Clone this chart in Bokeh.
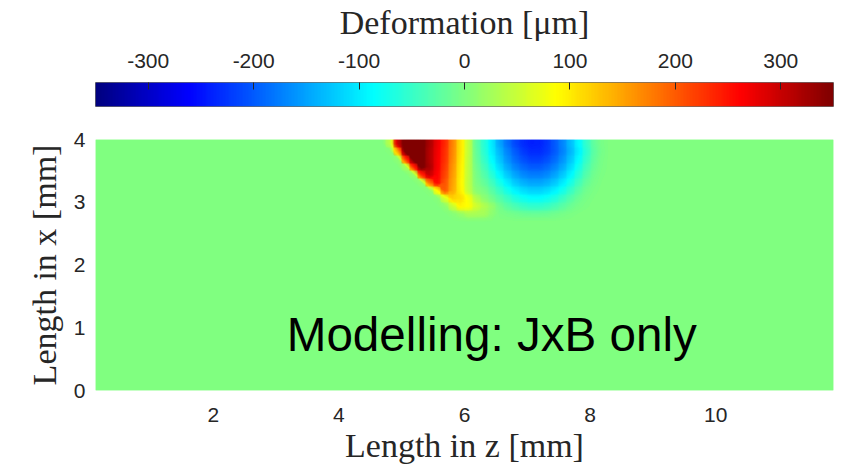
import numpy as np
from bokeh.plotting import figure
from bokeh.models import LinearColorMapper, FixedTicker, Range1d, CustomJSTickFormatter
from bokeh.layouts import column
from bokeh.embed import file_html
from bokeh.resources import INLINE
from bokeh.core.properties import value

# ---------------- data ----------------
z_limits = (0.125, 11.875)      # length in z [mm] (image extent)
x_limits = (0.0, 4.0)           # length in x [mm]
cell_size = 0.125               # grid step [mm]
patch_z_left = 4.75             # left edge of the non-zero patch [mm]
clim = (-350, 350)              # colour limits [um]

# deformation [um] in the non-zero patch, rows from x = 4.0 downwards,
# columns from z = 4.75 to the right, 0.125 mm cells
row_x3_94 = [40, 300, 370, 370, 365, 320, 275, 235, 170, 105, 45, -22, -61, -103, -150, -186, -214, -233, -242, -240, -226, -201, -170, -132, -92, -52, -20, -5]
row_x3_81 = [3, 150, 365, 370, 365, 315, 272, 230, 168, 105, 45, -19, -58, -99, -138, -173, -201, -223, -234, -234, -223, -201, -173, -138, -99, -58, -24, -7]
row_x3_69 = [0, 10, 220, 365, 365, 315, 270, 228, 165, 103, 43, -15, -51, -90, -128, -162, -189, -209, -220, -220, -209, -189, -162, -128, -90, -51, -20, -5]
row_x3_56 = [0, 0, 25, 230, 360, 320, 268, 222, 160, 100, 42, -10, -41, -76, -113, -146, -172, -190, -200, -200, -190, -172, -146, -113, -76, -41, -15, -4]
row_x3_44 = [0, 0, 0, 15, 230, 300, 262, 215, 155, 98, 43, -5, -30, -60, -94, -125, -150, -168, -177, -177, -168, -150, -125, -94, -60, -30, -10, -2]
row_x3_31 = [0, 0, 0, 0, 10, 180, 255, 205, 150, 95, 42, -1, -19, -43, -72, -101, -125, -141, -150, -150, -141, -125, -101, -72, -43, -19, -6, -1]
row_x3_19 = [0, 0, 0, 0, 0, 5, 90, 200, 145, 98, 45, 7, -5, -27, -50, -75, -96, -111, -119, -119, -111, -96, -75, -50, -27, -10, -3, 0]
row_x3_06 = [0, 0, 0, 0, 0, 0, 5, 60, 120, 110, 80, 35, 10, -9, -30, -48, -66, -79, -86, -86, -79, -66, -48, -30, -14, -5, -1, 0]
row_x2_94 = [0, 0, 0, 0, 0, 0, 0, 10, 50, 95, 85, 55, 33, 14, -10, -26, -38, -49, -54, -54, -49, -38, -26, -14, -6, -2, 0, 0]
row_x2_81 = [0, 0, 0, 0, 0, 0, 0, 0, 5, 15, 30, 28, 25, 10, -3, -6, -10, -14, -16, -16, -14, -10, -6, -3, -1, 0, 0, 0]
patch_rows = [row_x3_94, row_x3_81, row_x3_69, row_x3_56, row_x3_44,
              row_x3_31, row_x3_19, row_x3_06, row_x2_94, row_x2_81]

cbar_ticks = [-300, -200, -100, 0, 100, 200, 300]
x_ticks = [2, 4, 6, 8, 10]
y_ticks = [0, 1, 2, 3, 4]
annotation = "Modelling: JxB only"

# ---------------- field assembly ----------------
nz = int(round((z_limits[1] - z_limits[0]) / cell_size))
nx = int(round((x_limits[1] - x_limits[0]) / cell_size))
field = np.zeros((nx, nz))
c0 = int(round((patch_z_left - z_limits[0]) / cell_size))
for j, row in enumerate(patch_rows):
    field[nx - 1 - j, c0:c0 + len(row)] = row

# node grid for smooth (interpolated-shading-like) rendering:
# cell centres plus the domain edges (edge nodes repeat the neighbouring cell)
z_nodes = np.concatenate([[z_limits[0]], z_limits[0] + cell_size * (np.arange(nz) + 0.5), [z_limits[1]]])
x_nodes = np.concatenate([[x_limits[0]], x_limits[0] + cell_size * (np.arange(nx) + 0.5), [x_limits[1]]])
Z = np.pad(field, 1, mode="edge")

# jet colormap
def jet_rgb(t):
    t = np.clip(np.asarray(t, dtype=float), 0, 1)
    ch = lambda c: np.clip(1.5 - np.abs(4 * t - c), 0, 1)
    return ch(3), ch(2), ch(1)

def to_hex(r, g, b):
    return ["#%02x%02x%02x" % (int(round(a * 255)), int(round(bb * 255)), int(round(c * 255)))
            for a, bb, c in zip(r, g, b)]

jet = to_hex(*jet_rgb(np.linspace(0, 1, 256)))
mapper = LinearColorMapper(palette=jet, low=clim[0], high=clim[1])

step = 2.5
levels = np.arange(clim[0] - step / 2, 400 + step, step)
mids = 0.5 * (levels[:-1] + levels[1:])
band_colors = to_hex(*jet_rgb((mids - clim[0]) / (clim[1] - clim[0])))

TICK_FONT = "Liberation Sans"
LABEL_FONT = "Liberation Serif"
TXT = "#262626"

# ---------------- colour bar ----------------
cb = figure(width=846, height=115, x_range=Range1d(*clim), y_range=Range1d(0, 1),
            x_axis_location="above", y_axis_location=None,
            output_backend="svg", toolbar_location=None,
            min_border_left=94, min_border_right=13, min_border_top=81, min_border_bottom=9)
cb.image(image=[np.linspace(clim[0], clim[1], 512).reshape(1, -1)],
         x=clim[0], y=0, dw=clim[1] - clim[0], dh=1, color_mapper=mapper)
ax = cb.xaxis[0]
ax.ticker = FixedTicker(ticks=cbar_ticks)
ax.formatter = CustomJSTickFormatter(code="return tick.toFixed(0)")
ax.axis_label = "Deformation [μm]"
ax.axis_label_text_font = LABEL_FONT
ax.axis_label_text_font_style = "normal"
ax.axis_label_text_font_size = "34px"
ax.axis_label_text_color = TXT
ax.axis_label_standoff = 10
ax.major_label_text_font = TICK_FONT
ax.major_label_text_font_size = "21px"
ax.major_label_text_color = TXT
ax.major_label_standoff = 15
ax.major_tick_in = 7
ax.major_tick_out = 0
ax.major_tick_line_color = TXT
ax.minor_tick_line_color = None
ax.axis_line_color = None
cb.grid.visible = False
cb.outline_line_color = "#6b6b6b"
cb.outline_line_width = 1

# ---------------- main map ----------------
p = figure(width=846, height=352, x_range=Range1d(*z_limits), y_range=Range1d(*x_limits),
           output_backend="svg", toolbar_location=None,
           min_border_left=95, min_border_right=13, min_border_top=24, min_border_bottom=77)
p.image(image=[field], x=z_limits[0], y=x_limits[0],
        dw=z_limits[1] - z_limits[0], dh=x_limits[1] - x_limits[0], color_mapper=mapper)
p.contour(x=z_nodes, y=x_nodes, z=Z, levels=list(levels), fill_color=band_colors, line_color=None)
p.grid.visible = False
p.outline_line_color = None
for a, lab, ticks in ((p.xaxis[0], "Length in z [mm]", x_ticks), (p.yaxis[0], "Length in x [mm]", y_ticks)):
    a.ticker = FixedTicker(ticks=ticks)
    a.axis_label = lab
    a.axis_label_text_font = LABEL_FONT
    a.axis_label_text_font_style = "normal"
    a.axis_label_text_font_size = "34px"
    a.axis_label_text_color = TXT
    a.major_label_text_font = TICK_FONT
    a.major_label_text_font_size = "21px"
    a.major_label_text_color = TXT
    a.major_tick_line_color = None
    a.minor_tick_line_color = None
    a.axis_line_color = None
    a.major_tick_in = 0
    a.major_tick_out = 0
p.xaxis[0].major_label_standoff = 17
p.xaxis[0].axis_label_standoff = 2
p.yaxis[0].major_label_standoff = 10
p.yaxis[0].axis_label_standoff = 8

p.text(x=[3.17], y=[0.89], text=[annotation], text_font=value(TICK_FONT),
       text_font_size="47.6px", text_color="black",
       text_align="left", text_baseline="alphabetic")

layout = column(cb, p, spacing=0)
open("out.html", "w").write(file_html(layout, INLINE))
